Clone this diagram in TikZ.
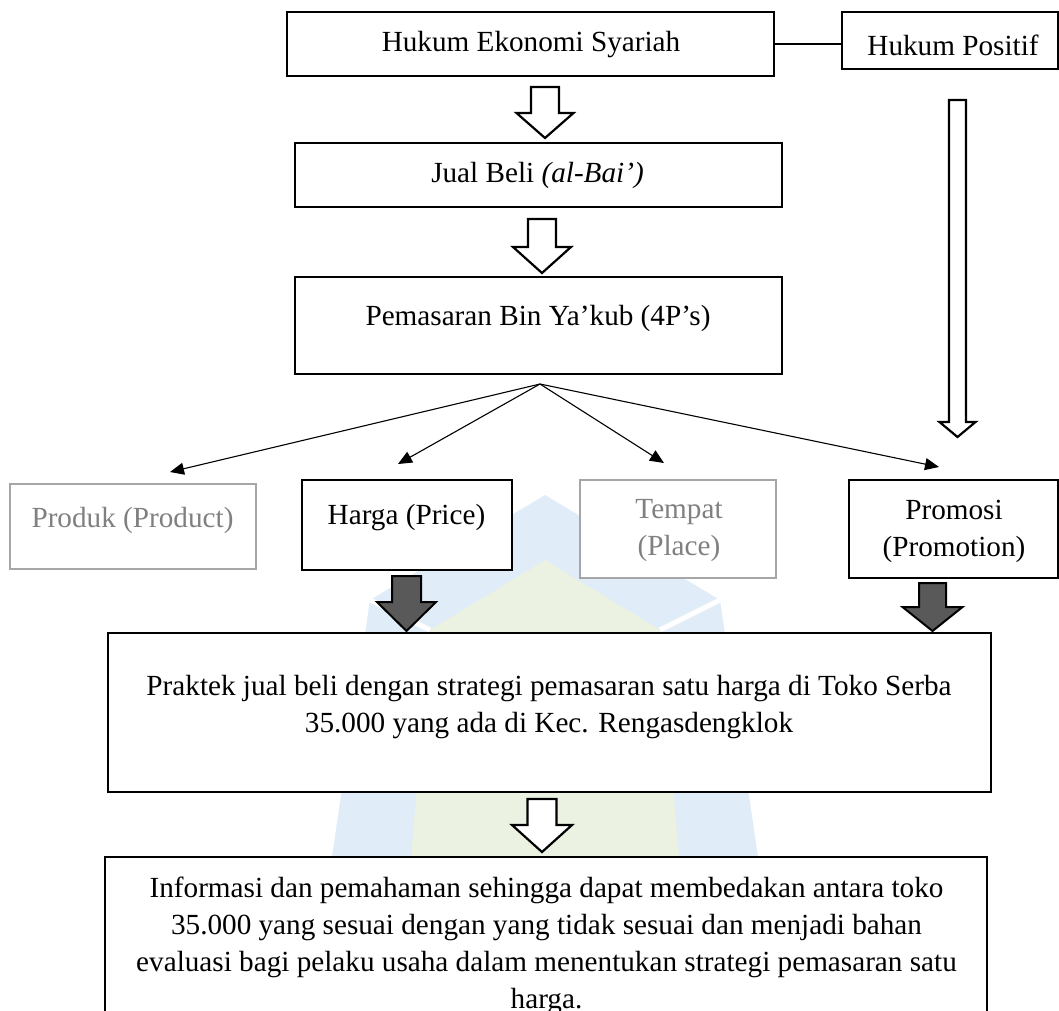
\documentclass[tikz,border=0pt]{standalone}
\usepackage{fontspec}
\setmainfont{Liberation Serif}
\usetikzlibrary{arrows.meta}
\definecolor{grayline}{HTML}{A6A6A6}
\definecolor{graytext}{HTML}{808080}
\definecolor{darkfill}{HTML}{595959}
\definecolor{wmblue}{HTML}{E0ECF7}
\definecolor{wmgreen}{HTML}{EBF2E2}
\newcommand\blockarrow[7]{\draw[#7] (#1-#3,#2) -- (#1+#3,#2) -- (#1+#3,#4) -- (#1+#5,#4) -- (#1,#6) -- (#1-#5,#4) -- (#1-#3,#4) -- cycle;}
\begin{document}
\begin{tikzpicture}[x=1pt,y=-1pt,
  box/.style={draw=black, line width=2.5pt, fill=white, inner sep=0pt, outer sep=0pt},
  graybox/.style={box, draw=grayline},
  txt/.style={font=\fontsize{29.2}{37}\selectfont, inner sep=0pt, align=center},
  graytxt/.style={txt, text=graytext},
  fanarrow/.style={line width=1.1pt, -{Triangle[length=14pt,width=12pt]}},
  whitearrow/.style={draw=black, line width=2.2pt, fill=white, line join=miter},
  darkarrow/.style={draw=black, line width=2pt, fill=darkfill, line join=miter},
  thinline/.style={line width=1.2pt}]
\useasboundingbox (0,0) rectangle (1059,1010);
\clip (0,0) rectangle (1059,1010);
% faint watermark
\fill[wmblue] (545,495) -- (720,600) -- (760,870) -- (545,930) -- (330,870) -- (370,600) -- cycle;
\fill[wmgreen] (545,560) -- (660,630) -- (680,870) -- (545,910) -- (410,870) -- (430,630) -- cycle;
\draw[white, line width=5pt] (430,630) -- (370,600) (660,630) -- (720,600) (410,870) -- (330,870) (680,870) -- (760,870);
% boxes
\node[box, minimum width=487pt, minimum height=64pt] (hes) at (530.5,44) {};
\node[box, minimum width=216pt, minimum height=57pt] (hp) at (950,40.5) {};
\node[box, minimum width=487pt, minimum height=64pt] (jb) at (538.5,175) {};
\node[box, minimum width=487pt, minimum height=97pt] (pem) at (538.5,325.5) {};
\node[graybox, minimum width=246pt, minimum height=85pt] (prod) at (133,526.5) {};
\node[box, minimum width=210pt, minimum height=90pt] (harga) at (407,525) {};
\node[graybox, minimum width=196pt, minimum height=98pt] (tempat) at (678,529) {};
\node[box, minimum width=209pt, minimum height=98pt] (promosi) at (953.5,529) {};
\node[box, minimum width=883pt, minimum height=159pt] (praktek) at (549.5,712.5) {};
\node[box, minimum width=882pt, minimum height=183pt] (info) at (546,948.5) {};
% texts
\node[txt] (t-hes) at (531,45) {Hukum Ekonomi Syariah};
\node[txt] (t-hp) at (953,45) {Hukum Positif};
\node[txt] (t-jb) at (537.5,175) {Jual Beli \textit{(al-Bai’)}};
\node[txt] (t-pem) at (538,318) {Pemasaran Bin Ya’kub (4P’s)};
\node[graytxt] (t-prod) at (132.5,520) {Produk (Product)};
\node[txt] (t-harga) at (406.5,518) {Harga (Price)};
\node[graytxt] (t-tempat) at (679,531) {Tempat\\(Place)};
\node[txt] (t-promosi) at (954,531) {Promosi\\(Promotion)};
\node[txt] (t-praktek) at (549,707) {Praktek jual beli dengan strategi pemasaran satu harga di Toko Serba\\35.000 yang ada di Kec. Rengasdengklok};
\node[txt] (t-info) at (546.5,946) {Informasi dan pemahaman sehingga dapat membedakan antara toko\\35.000 yang sesuai dengan yang tidak sesuai dan menjadi bahan\\evaluasi bagi pelaku usaha dalam menentukan strategi pemasaran satu\\harga.};
% connector between top boxes
\draw[thinline] (hes.east) -- (hes.east -| hp.west);
% fan of arrows
\coordinate (fan) at (540,384);
\coordinate (tip-prod) at (170,472);
\coordinate (tip-harga) at (398,464);
\coordinate (tip-tempat) at (664,463);
\coordinate (tip-promosi) at (939,467);
\draw[fanarrow] (fan) -- (tip-prod);
\draw[fanarrow] (fan) -- (tip-harga);
\draw[fanarrow] (fan) -- (tip-tempat);
\draw[fanarrow] (fan) -- (tip-promosi);
% block arrows
\blockarrow{545}{87}{14}{113}{28.5}{138}{whitearrow}
\blockarrow{542}{219}{14}{247}{29}{273}{whitearrow}
\blockarrow{957.5}{100}{8.5}{422}{18}{437}{whitearrow}
\blockarrow{406.5}{576}{14.5}{602}{29.5}{631}{darkarrow}
\blockarrow{932.5}{583}{13.5}{607}{30}{631}{darkarrow}
\blockarrow{542}{799}{14.5}{825}{30}{852}{whitearrow}
\end{tikzpicture}
\end{document}
